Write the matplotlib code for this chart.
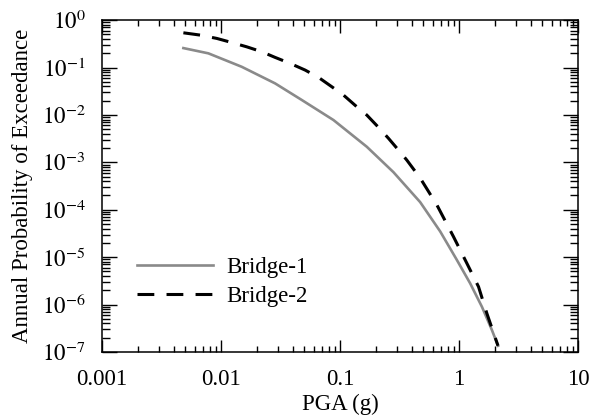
import matplotlib
matplotlib.use("Agg")
import matplotlib.pyplot as plt
from matplotlib.ticker import FixedLocator, FixedFormatter, LogLocator, NullFormatter

plt.rcParams['font.family'] = 'serif'
plt.rcParams['font.serif'] = ['Liberation Serif', 'DejaVu Serif']
plt.rcParams['mathtext.fontset'] = 'stix'

# hazard curves
pga_1 = [0.00482, 0.00782, 0.0149, 0.0284, 0.0477, 0.0879, 0.1675, 0.2805, 0.470,
         0.692, 0.957, 1.236, 1.552, 1.883, 2.12]
poe_1 = [0.257, 0.199, 0.1036, 0.0463, 0.0206, 0.0078, 2.13e-3, 6.2e-4, 1.45e-4,
         3.5e-5, 8.7e-6, 2.81e-6, 9.0e-7, 2.91e-7, 1.35e-7]

pga_2 = [0.00482, 0.00667, 0.0092, 0.0119, 0.0164, 0.022, 0.0284, 0.038, 0.0508,
         0.0658, 0.0851, 0.1067, 0.138, 0.1675, 0.210, 0.2547, 0.309, 0.363,
         0.470, 0.650, 0.896, 1.161, 1.454, 1.709, 2.12]
poe_2 = [0.540, 0.483, 0.411, 0.344, 0.2735, 0.2147, 0.1636, 0.1222, 0.0883,
         0.0619, 0.0393, 0.0262, 0.01487, 0.00993, 0.00547, 0.00321, 1.816e-3, 1.117e-3,
         4.67e-4, 1.26e-4, 2.7e-5, 7.4e-6, 2.38e-6, 6.5e-7, 1.35e-7]

x_ticks = [0.001, 0.01, 0.1, 1, 10]
x_labels = ['0.001', '0.01', '0.1', '1', '10']
y_exps = [0, -1, -2, -3, -4, -5, -6, -7]

fig = plt.figure(figsize=(5.9, 4.19), dpi=100)
ax = fig.add_axes([0.173, 0.160, 0.807, 0.792])

ax.plot(pga_1, poe_1, color='#8a8a8a', lw=1.9, label='Bridge-1')
ax.plot(pga_2, poe_2, color='black', lw=2.2, dashes=(5.5, 4), label='Bridge-2')

ax.set_xscale('log')
ax.set_yscale('log')
ax.set_xlim(0.001, 10)
ax.set_ylim(1e-7, 1)

ax.xaxis.set_major_locator(FixedLocator(x_ticks))
ax.xaxis.set_major_formatter(FixedFormatter(x_labels))
ax.xaxis.set_minor_locator(LogLocator(base=10, subs=range(2, 10), numticks=100))
ax.xaxis.set_minor_formatter(NullFormatter())
ax.yaxis.set_major_locator(FixedLocator([10.0 ** e for e in y_exps]))
ax.yaxis.set_major_formatter(FixedFormatter(['$10^{%d}$' % e for e in y_exps]))
ax.yaxis.set_minor_locator(LogLocator(base=10, subs=range(2, 10), numticks=100))
ax.yaxis.set_minor_formatter(NullFormatter())

ax.tick_params(which='both', direction='in', top=True, right=True, width=1.0)
ax.tick_params(axis='x', which='major', length=9, pad=12, labelsize=16.5)
ax.tick_params(axis='x', which='minor', length=4.5)
ax.tick_params(axis='y', which='major', length=11, pad=12, labelsize=16.5)
ax.tick_params(axis='y', which='minor', length=5.5)
for s in ax.spines.values():
    s.set_linewidth(1.1)

ax.set_xlabel('PGA (g)', fontsize=16.5, labelpad=3)
ax.set_ylabel('Annual Probability of Exceedance', fontsize=16.5, labelpad=6)

ax.legend(loc='center left', bbox_to_anchor=(0.0735, 0.212), frameon=False,
          fontsize=16.5, handlelength=3.3, handletextpad=0.6, labelspacing=0.35,
          borderpad=0, borderaxespad=0)

fig.savefig('out.png', dpi=100)
